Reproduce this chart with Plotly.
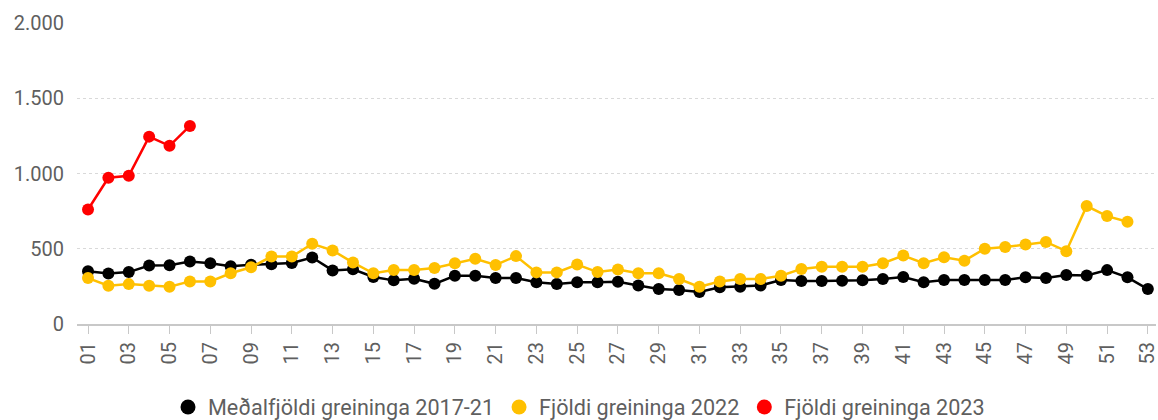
import plotly.graph_objects as go

weeks = [f"{w:02d}" for w in range(1, 54)]

avg_2017_21 = [350, 335, 345, 388, 390, 415, 404, 383, 393, 397, 406, 442, 356, 364,
               312, 290, 300, 267, 320, 320, 305, 305, 278, 266, 278, 278, 280, 256,
               232, 226, 212, 244, 248, 256, 292, 285, 285, 288, 290, 299, 312, 278,
               292, 292, 292, 293, 310, 306, 325, 322, 358, 310, 232]
count_2022 = [305, 254, 265, 254, 247, 283, 283, 337, 377, 448, 448, 533, 489, 408,
              337, 359, 359, 372, 404, 433, 392, 451, 343, 343, 395, 345, 362, 337,
              337, 299, 247, 283, 299, 299, 321, 366, 381, 381, 381, 404, 455, 404,
              444, 421, 500, 511, 529, 545, 484, 784, 717, 679]
count_2023 = [761, 972, 985, 1245, 1184, 1316]

series = [
    ("Meðalfjöldi greininga 2017-21", avg_2017_21, "#000000"),
    ("Fjöldi greininga 2022", count_2022, "#FFC000"),
    ("Fjöldi greininga 2023", count_2023, "#FF0000"),
]

fig = go.Figure()
for name, vals, color in series:
    fig.add_trace(go.Scatter(
        x=weeks[:len(vals)], y=vals, name=name, mode="lines+markers",
        line=dict(color=color, width=2.5),
        marker=dict(color=color, size=12),
        showlegend=False, cliponaxis=False,
    ))
    # legend shows only a dot
    fig.add_trace(go.Scatter(
        x=[None], y=[None], name=name, mode="markers",
        marker=dict(color=color, size=15),
    ))

fig.update_layout(
    width=1158, height=420,
    margin=dict(l=77, r=2, t=23, b=96, autoexpand=False),
    paper_bgcolor="white", plot_bgcolor="white",
    separators=",.",
    font=dict(family="Roboto", size=20, color="#5f5f5f"),
    legend=dict(orientation="h", xref="container", x=0.5, xanchor="center",
                yref="container", y=0.03, yanchor="middle",
                font=dict(size=21.6, color="#5f5f5f")),
)
fig.update_xaxes(
    type="category", categoryorder="array", categoryarray=weeks,
    range=[-0.54, 52.4], automargin=False,
    tickmode="array", tickvals=weeks[::2], ticktext=weeks[::2],
    tickangle=-90, ticks="outside", ticklen=8, tickcolor="#c8c8c8",
    showline=True, linecolor="#c8c8c8", linewidth=2,
    showgrid=False,
)
fig.update_yaxes(
    range=[0, 2000], tickvals=[0, 500, 1000, 1500, 2000], tickformat=",d",
    showgrid=True, gridcolor="#d9d9d9", griddash="dot", gridwidth=1,
    zeroline=False, ticks="", ticklabelstandoff=12, automargin=False,
)

# page body has a default 8px margin; drop it so the chart fills the window
fig.write_html("out.html", config={"displayModeBar": False},
               post_script="document.body.style.margin='0';")
